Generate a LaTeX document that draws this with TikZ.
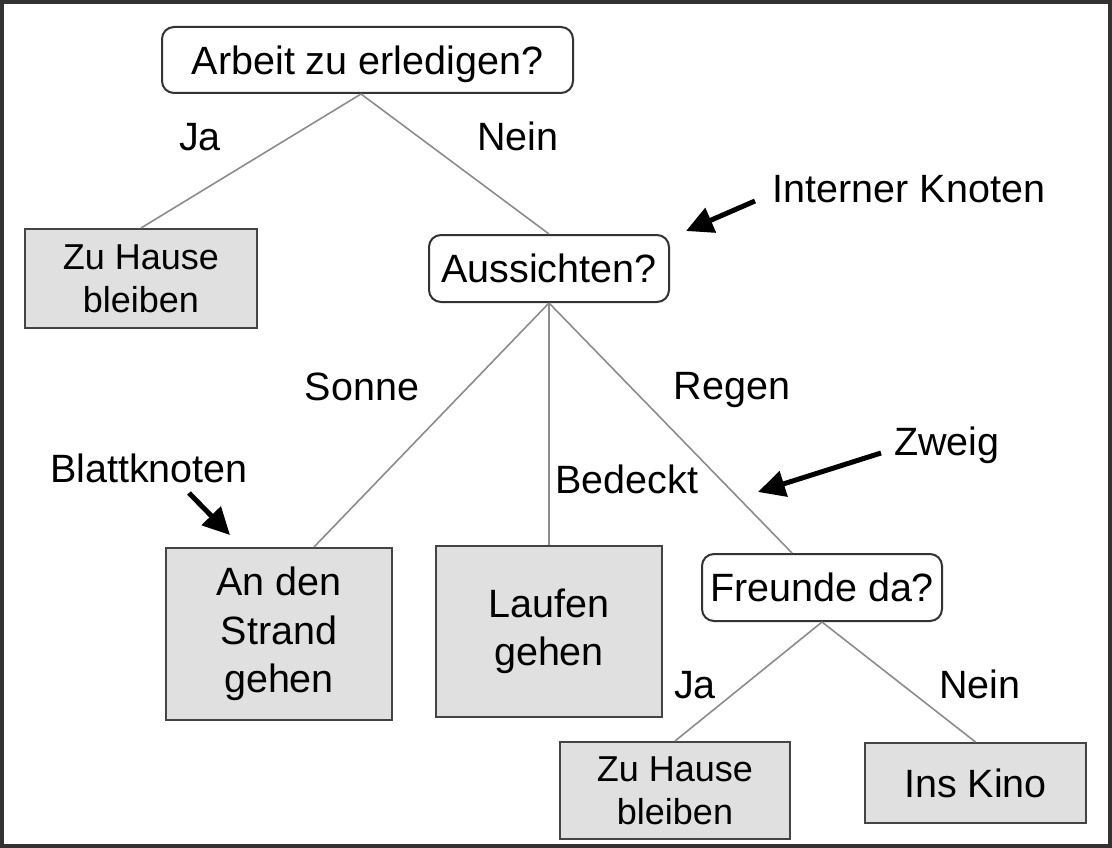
\documentclass[tikz,border=0pt]{standalone}
\usepackage{fontspec}
\setmainfont{Liberation Sans}
\usetikzlibrary{arrows.meta,calc}
\definecolor{bord}{HTML}{333333}
\definecolor{leafbord}{HTML}{444444}
\definecolor{leafgray}{HTML}{E0E0E0}
\definecolor{edgegray}{HTML}{8C8C8C}
\definecolor{framec}{HTML}{333333}
\newcommand\bigf{\fontsize{39.5}{48.5}\selectfont}
\newcommand\zhf{\fontsize{36}{43}\selectfont}
\begin{document}
\begin{tikzpicture}[x=1pt,y=-1pt,
  dec/.style={draw=bord, line width=2pt, rounded corners=12pt, fill=white, inner sep=0pt, align=center, font=\bigf, text depth=0pt},
  leaf/.style={draw=leafbord, fill=leafgray, line width=2pt, inner sep=0pt, align=center, font=\bigf},
  edge/.style={draw=edgegray, line width=1.6pt},
  lbl/.style={inner sep=0pt, anchor=base, font=\bigf},
  callout/.style={line width=5pt, -{Triangle[length=27pt,width=26pt]}}
]
\useasboundingbox (0,0) rectangle (1112,848);
\fill[white] (0,0) rectangle (1112,848);
\draw[framec, line width=4pt] (2,2) rectangle (1110,846);

% nodes
\node[dec, minimum width=411pt, minimum height=66pt] (root) at (367.5,60) {Arbeit zu erledigen?};
\node[leaf, minimum width=232pt, minimum height=99pt, font=\zhf] (zh1) at (141,278.5) {Zu Hause\\bleiben};
\node[dec, minimum width=240pt, minimum height=67pt] (auss) at (549,268.5) {Aussichten?};
\node[leaf, minimum width=226pt, minimum height=172pt] (strand) at (279,634) {An den\\Strand\\gehen};
\node[leaf, minimum width=226pt, minimum height=171pt] (laufen) at (549,631.5) {Laufen\\gehen};
\node[dec, minimum width=240pt, minimum height=67pt] (freunde) at (822,587.5) {Freunde da?};
\node[leaf, minimum width=230pt, minimum height=97pt, font=\zhf] (zh2) at (675,790.5) {Zu Hause\\bleiben};
\node[leaf, minimum width=221pt, minimum height=80pt] (kino) at (975.5,783) {Ins Kino};

% edges
\draw[edge] ([xshift=-6.5pt]root.south) -- (zh1.north);
\draw[edge] ([xshift=-6.5pt]root.south) -- (auss.north);
\draw[edge] (auss.south) -- ([xshift=35pt]strand.north);
\draw[edge] (auss.south) -- (laufen.north);
\draw[edge] (auss.south) -- ([xshift=-30pt]freunde.north);
\draw[edge] (freunde.south) -- (zh2.north);
\draw[edge] (freunde.south) -- (kino.north);

% labels
\node[lbl] (ja1) at (200,151) {Ja};
\node[lbl] (nein1) at (518,151) {Nein};
\node[lbl] (intern) at (909,203) {Interner Knoten};
\node[lbl] (sonne) at (362,400) {Sonne};
\node[lbl] (blatt) at (149,482) {Blattknoten};
\node[lbl] (bedeckt) at (627,493) {Bedeckt};
\node[lbl] (regen) at (732,399) {Regen};
\node[lbl] (zweig) at (947,455) {Zweig};
\node[lbl] (ja2) at (695,698) {Ja};
\node[lbl] (nein2) at (980,698) {Nein};

% callout arrows
\coordinate (ika) at (755,201);
\coordinate (ikb) at (686,231);
\coordinate (zwa) at (881,453);
\coordinate (zwb) at (758,492);
\coordinate (bla) at (189,493);
\coordinate (blb) at (230,535);
\draw[callout] (ika) -- (ikb);
\draw[callout] (zwa) -- (zwb);
\draw[callout] (bla) -- (blb);
\end{tikzpicture}
\end{document}
